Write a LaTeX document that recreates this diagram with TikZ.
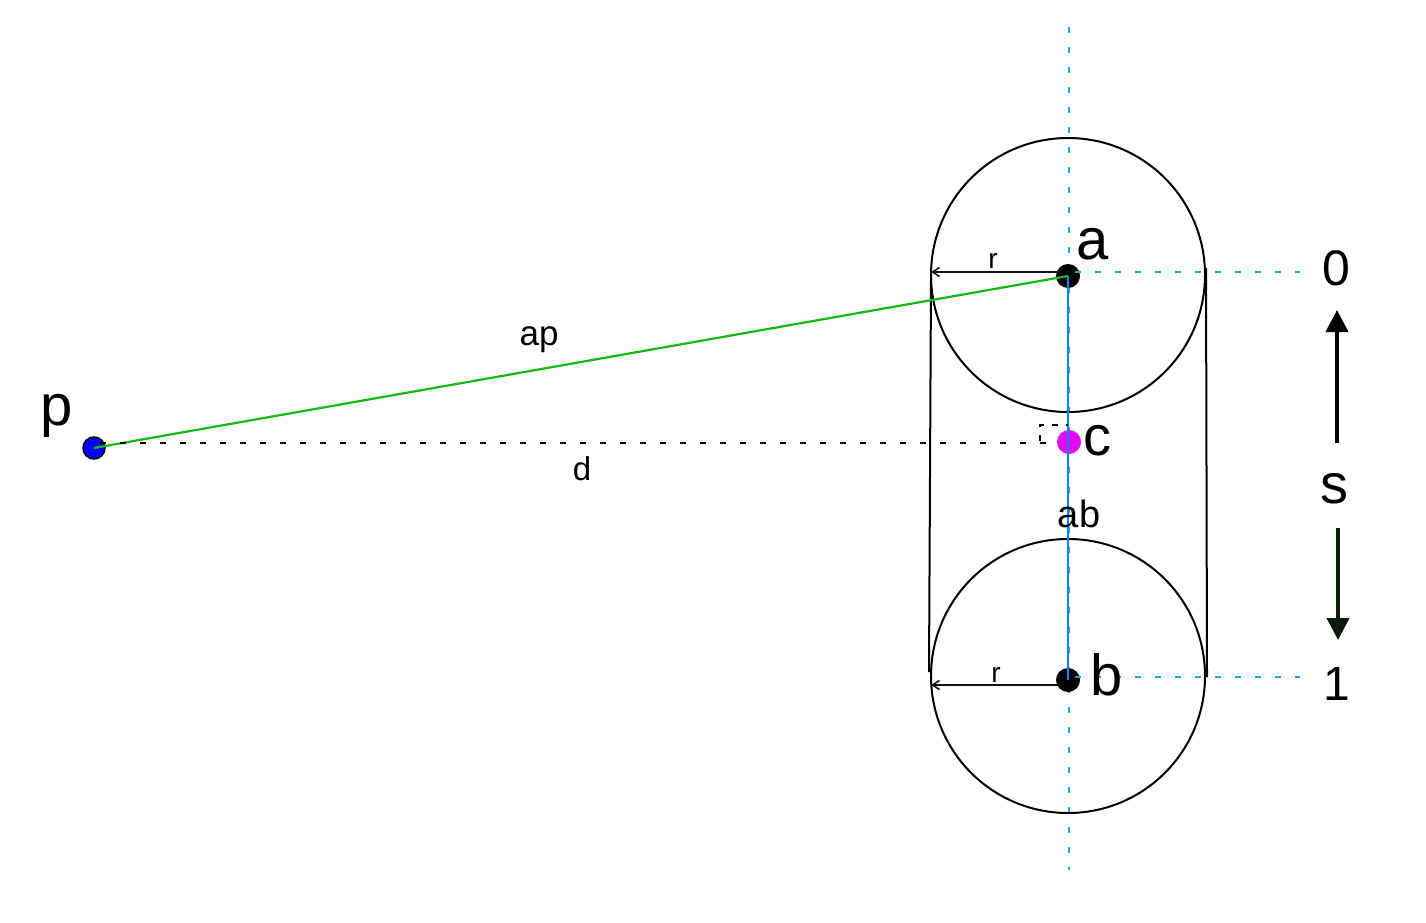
\documentclass[tikz,border=0pt]{standalone}
\usepackage{fontspec}
\setmainfont{Liberation Sans}
\usetikzlibrary{arrows.meta}
\definecolor{guide}{RGB}{20,165,240}
\definecolor{segblue}{RGB}{10,130,255}
\definecolor{apgreen}{RGB}{20,185,20}
\definecolor{mag}{RGB}{225,15,240}
\definecolor{arrowdark}{RGB}{10,25,10}
\tikzset{
  guideline/.style={guide, line width=2.2pt, dash pattern=on 6pt off 14pt},
  outline/.style={black, line width=2pt},
  dot/.style={circle, fill=black, minimum size=24pt, inner sep=0pt},
  lbl/.style={anchor=base, inner sep=0pt, font=\fontsize{#1}{#1}\selectfont},
  radarrow/.style={arrowdark, line width=1.6pt, -{Straight Barb[length=7pt,width=9pt]}},
  sarrow/.style={line width=4pt, -{Triangle[length=22pt,width=22pt]}},
}
\begin{document}
\begin{tikzpicture}[x=1pt,y=-1pt]
\fill[white] (0,0) rectangle (1426,923);
\useasboundingbox (0,0) rectangle (1426,923);

% guide lines
\coordinate (vtop) at (1069,27);
\coordinate (vbot) at (1069,870);
\coordinate (h0) at (1300,272);
\coordinate (h1) at (1300,677);
\draw[guideline] (vtop) -- (vbot);

% circles and capsule sides
\draw[outline] (1068,275) circle[radius=137];
\draw[outline] (1068,676) circle[radius=137];
\coordinate (l1) at (931,278);
\coordinate (l2) at (929,672);
\coordinate (r1) at (1206,268);
\coordinate (r2) at (1207,677);
\draw[outline] (l1) -- (l2);
\draw[outline] (r1) -- (r2);

% points
\node[dot] (a) at (1068,276) {};
\node[dot] (b) at (1068,680) {};
\node[dot, fill=mag] (c) at (1069,442) {};
\node[dot, fill=blue, draw=black, line width=1.5pt, minimum size=22pt] (p) at (94,448) {};

\coordinate (aR) at (1075,272);
\coordinate (bR) at (1075,677);
\draw[guideline] (aR) -- (h0);
\draw[guideline] (bR) -- (h1);

% segments
\draw[segblue, line width=2pt] (a.center) -- (b.center);
\draw[apgreen, line width=2.2pt] (p.center) -- (a.center);
\coordinate (pc) at (100,443);
\coordinate (cc) at (1058,443);
\draw[black, line width=2pt, dash pattern=on 6pt off 14pt] (pc) -- (cc);
% right-angle mark
\coordinate (ra1) at (1040,441);
\coordinate (ra2) at (1040,425);
\coordinate (ra3) at (1068,425);
\draw[black, line width=1.5pt, dash pattern=on 6pt off 8pt] (ra1) -- (ra2) -- (ra3);

% radius arrows
\coordinate (ra) at (1060,272);
\coordinate (raL) at (931,272);
\coordinate (rb) at (1060,685);
\coordinate (rbL) at (931,685);
\draw[radarrow] (ra) -- (raL);
\draw[radarrow] (rb) -- (rbL);

% labels
\node[lbl=58] (la) at (1093,259) {a};
\node[lbl=58] (lb) at (1107,695) {b};
\node[lbl=56] (lc) at (1097,455) {c};
\node[lbl=58] (lp) at (57,425) {p};
\node[lbl=35] (lap) at (539,345) {ap};
\node[lbl=33] (ld) at (582,480) {d};
\node[lbl=38] (lab) at (1079,527) {ab};
\node[lbl=28] (lr1) at (993,268) {r};
\node[lbl=28] (lr2) at (996,682) {r};
\node[lbl=50] (l0) at (1336,285) {0};
\node[lbl=56] (ls) at (1334,503) {s};
\node[lbl=48] (l1lab) at (1337,700) {1};

% s arrows
\coordinate (su1) at (1337,443);
\coordinate (su2) at (1337,310);
\coordinate (sd1) at (1338,528);
\coordinate (sd2) at (1338,640);
\draw[sarrow, black] (su1) -- (su2);
\draw[sarrow, arrowdark] (sd1) -- (sd2);
\end{tikzpicture}
\end{document}
